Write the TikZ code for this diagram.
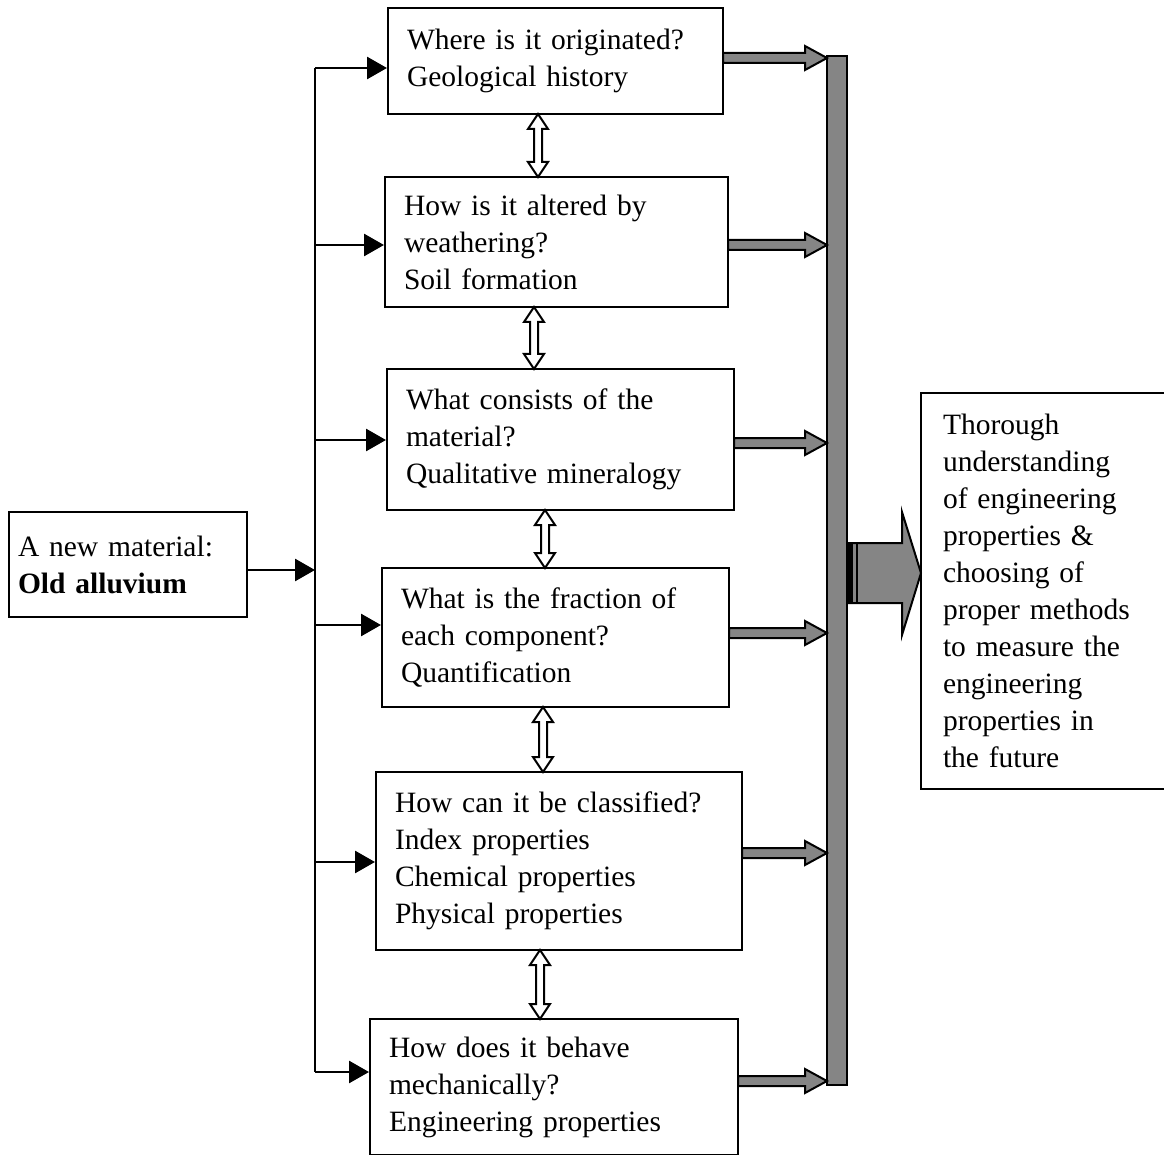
\documentclass[tikz,border=0pt]{standalone}
\usepackage{fontspec}
\setmainfont{Liberation Serif}
\usetikzlibrary{arrows.meta}
\definecolor{bargray}{gray}{0.52}
\newcommand\garrow[2]{%
  \filldraw[garr] (#1,#2-5) -- (805,#2-5) -- (805,#2-12) -- (827,#2) -- (805,#2+12) -- (805,#2+5) -- (#1,#2+5) -- cycle;}
\newcommand\dblarr[3]{%
  \filldraw[darr] (#1,#2) -- (#1+10,#2+15) -- (#1+4,#2+15) -- (#1+4,#3-15) -- (#1+10,#3-15) -- (#1,#3)
   -- (#1-10,#3-15) -- (#1-4,#3-15) -- (#1-4,#2+15) -- (#1-10,#2+15) -- cycle;}
\begin{document}
\begin{tikzpicture}[x=1pt,y=-1pt,
  box/.style={draw,line width=2pt,rectangle,align=left,inner xsep=19pt,inner ysep=0pt,
    font=\fontsize{29.5}{37}\selectfont},
  blk/.style={line width=2.8pt,-{Triangle[length=20pt,width=22pt]}},
  garr/.style={fill=bargray,draw=black,line width=2pt,line join=miter},
  darr/.style={fill=white,draw=black,line width=2pt,line join=miter}]
\useasboundingbox (0,0) rectangle (1164,1155);
\node[box,text width=297pt,minimum height=106pt] (b1) at (555.5,61) {Where is it originated?\\Geological history};
\node[box,text width=305pt,minimum height=130pt] (b2) at (556.5,242) {How is it altered by\\weathering?\\Soil formation};
\node[box,text width=309pt,minimum height=141pt] (b3) at (560.5,439.5) {What consists of the\\material?\\Qualitative mineralogy};
\node[box,text width=309pt,minimum height=139pt] (b4) at (555.5,637.5) {What is the fraction of\\each component?\\Quantification};
\node[box,text width=328pt,minimum height=178pt] (b5) at (559,861) {How can it be classified?\\Index properties\\Chemical properties\\Physical properties};
\node[box,text width=330pt,minimum height=136pt] (b6) at (554,1087) {How does it behave\\mechanically?\\Engineering properties};
\node[box,inner xsep=9pt,text width=220pt,minimum height=105pt] (left) at (128,564.5) {A new material:\\\textbf{Old alluvium}};
\node[box,inner xsep=22pt,text width=201pt,minimum height=396pt] (right) at (1043.5,591) {Thorough\\understanding\\of engineering\\properties \&\\choosing of\\proper methods\\to measure the\\engineering\\properties in\\the future};
% vertical distribution line
\coordinate (vt) at (315,68);
\coordinate (vb) at (315,1072);
\draw[line width=2.8pt] (vt) -- (vb);
\draw[blk] (vt) -- (b1.west |- vt);
\draw[blk] (vt |- 0,245) -- (b2.west |- 0,245);
\draw[blk] (vt |- 0,440) -- (b3.west |- 0,440);
\draw[blk] (vt |- 0,625) -- (b4.west |- 0,625);
\draw[blk] (vt |- 0,862) -- (b5.west |- 0,862);
\draw[blk] (vb) -- (b6.west |- vb);
\draw[blk] (left.east |- 0,570) -- (vt |- 0,570);
% gray collecting bar
\node[draw=black,line width=2pt,fill=bargray,minimum width=20pt,minimum height=1029pt,inner sep=0pt] (bar) at (837,570.5) {};
\garrow{723}{58}
\garrow{728}{245}
\garrow{734}{443}
\garrow{729}{633}
\garrow{742}{853}
\garrow{738}{1081}
% big arrow
\filldraw[garr] (847,543) -- (902,543) -- (902,512) -- (921,573) -- (902,635) -- (902,603) -- (847,603) -- cycle;
\fill[black] (847,543) rectangle (853,603);
\draw[line width=1.2pt] (857,543) -- (857,603);
% double arrows
\dblarr{538}{114}{177}
\dblarr{534}{307}{369}
\dblarr{545}{510}{568}
\dblarr{543}{707}{772}
\dblarr{540}{950}{1019}
\end{tikzpicture}
\end{document}
